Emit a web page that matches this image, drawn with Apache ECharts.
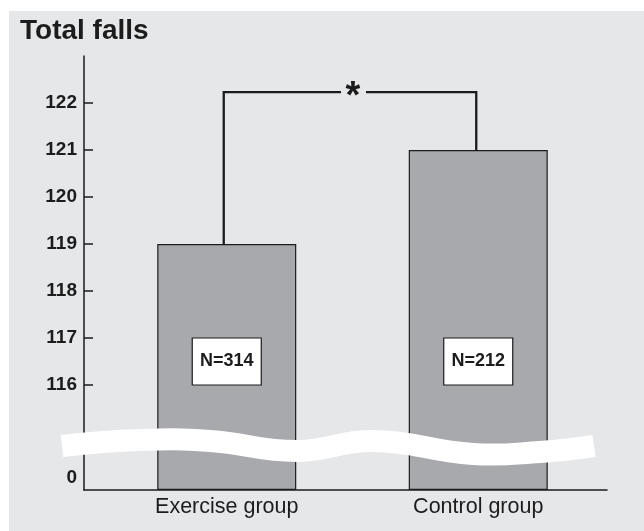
<!DOCTYPE html>
<html>
<head>
<meta charset="utf-8">
<script src="https://cdn.jsdelivr.net/npm/echarts@6/dist/echarts.min.js"></script>
<style>
  html, body { margin: 0; padding: 0; background: #ffffff; }
  #c { position: absolute; left: 9px; top: 11px; width: 635px; height: 520px; }
</style>
</head>
<body>
<div id="c"></div>
<script>
// ---- data ----
const categories = ['Exercise group', 'Control group'];
const totalFalls = [119, 121];
const sampleSizes = ['N=314', 'N=212'];
const yLabelValues = [0, 116, 117, 118, 119, 120, 121, 122];
const yTickValues = [116, 117, 118, 119, 120, 121, 122];
const significanceMark = '*';

// ---- styling / layout constants ----
const FONT = '"Liberation Sans", Arial, Helvetica, sans-serif';
const INK = '#1c1c1c';
const BRACKET_LEVEL = 122.23;
const BOX_LOW = 116, BOX_HIGH = 117;

const chart = echarts.init(document.getElementById('c'));

const yBase = {
  type: 'value',
  position: 'left',
  min: 0,
  max: 123,
  breaks: [{ start: 0.5, end: 115.5, gap: 1.234 }],
  breakArea: { show: false },
  splitLine: { show: false }
};

const option = {
  backgroundColor: '#e6e7e9',
  animation: false,
  title: {
    text: 'Total falls',
    left: 11,
    top: 6,
    padding: 0,
    textStyle: { fontFamily: FONT, fontSize: 28, fontWeight: 'bold', color: INK }
  },
  grid: [
    { left: 75, right: 37, top: 45, bottom: 41 },
    { left: 92, right: 40, top: 45, bottom: 41 }
  ],
  xAxis: [
    {
      gridIndex: 0, type: 'category', data: categories,
      axisLine: { lineStyle: { color: INK, width: 1.5 } },
      axisTick: { show: false }, axisLabel: { show: false }, splitLine: { show: false }
    },
    {
      gridIndex: 1, type: 'category', data: categories,
      axisLine: { show: false }, axisTick: { show: false }, splitLine: { show: false },
      axisLabel: { margin: 6, fontSize: 21.5, color: INK, fontFamily: FONT }
    }
  ],
  yAxis: [
    Object.assign({}, yBase, {
      gridIndex: 0,
      axisLine: { show: false },
      axisTick: { show: true, inside: true, length: 9, customValues: yTickValues,
                  lineStyle: { color: INK, width: 1.5 } },
      axisLabel: {
        customValues: yLabelValues,
        margin: 7,
        fontSize: 19, fontWeight: 'bold', color: INK, fontFamily: FONT,
        formatter: function (v) { return v === 0 ? '{z|0}' : String(v); },
        rich: { z: { fontSize: 19, fontWeight: 'bold', color: INK, fontFamily: FONT, padding: [0, 0, 24, 0] } }
      }
    }),
    Object.assign({}, yBase, { gridIndex: 1, show: false }),
    {
      gridIndex: 0, type: 'value', position: 'left', offset: 0, min: 0, max: 123,
      axisLine: { show: true, lineStyle: { color: INK, width: 1.5 } },
      axisTick: { show: false }, axisLabel: { show: false }, splitLine: { show: false }
    }
  ],
  series: [
    {
      type: 'bar',
      xAxisIndex: 1, yAxisIndex: 1,
      data: totalFalls,
      barWidth: 139,
      itemStyle: { color: '#a8a9ac', borderColor: INK, borderWidth: 1.2 },
      z: 2
    },
    {
      type: 'custom',
      xAxisIndex: 1, yAxisIndex: 1,
      data: [[0, totalFalls[0], 1, totalFalls[1]]],
      z: 5,
      renderItem: function (params, api) {
        const a = api.coord([api.value(0), api.value(1)]);
        const b = api.coord([api.value(2), api.value(3)]);
        const yTop = api.coord([0, BRACKET_LEVEL])[1];
        const ax = a[0] - 3, bx = b[0] - 2;
        const mid = (ax + bx) / 2 + 3;
        const ls = { stroke: INK, lineWidth: 2.3, fill: null };
        return {
          type: 'group',
          children: [
            { type: 'polyline', shape: { points: [[ax, a[1]], [ax, yTop], [mid - 12, yTop]] }, style: ls },
            { type: 'polyline', shape: { points: [[mid + 13, yTop], [bx, yTop], [bx, b[1]]] }, style: ls },
            { type: 'text', x: mid, y: yTop + 5,
              style: { text: significanceMark, fontSize: 38, fontWeight: 'bold', fontFamily: FONT,
                       fill: INK, align: 'center', verticalAlign: 'middle' } }
          ]
        };
      }
    },
    {
      type: 'custom',
      xAxisIndex: 1, yAxisIndex: 1,
      data: sampleSizes.map(function (s, i) { return [i]; }),
      z: 6,
      renderItem: function (params, api) {
        const i = api.value(0);
        const lo = api.coord([i, BOX_LOW]);
        const hi = api.coord([i, BOX_HIGH]);
        const w = 69;
        return {
          type: 'group',
          children: [
            { type: 'rect', shape: { x: lo[0] - w / 2, y: hi[1], width: w, height: lo[1] - hi[1] },
              style: { fill: '#ffffff', stroke: INK, lineWidth: 1.2 } },
            { type: 'text', x: lo[0], y: (lo[1] + hi[1]) / 2,
              style: { text: sampleSizes[params.dataIndex], fontSize: 18, fontWeight: 'bold', fontFamily: FONT,
                       fill: INK, align: 'center', verticalAlign: 'middle' } }
          ]
        };
      }
    }
  ],
  graphic: [
    {
      type: 'polyline',
      z: 100,
      silent: true,
      shape: {
        points: [[53, 435], [131, 429], [201, 430], [288, 440], [364, 430], [464, 443], [531, 441], [585, 435]],
        smooth: 0.45
      },
      style: { stroke: '#ffffff', lineWidth: 22, fill: null, lineCap: 'butt' }
    }
  ]
};

chart.setOption(option);
</script>
</body>
</html>
